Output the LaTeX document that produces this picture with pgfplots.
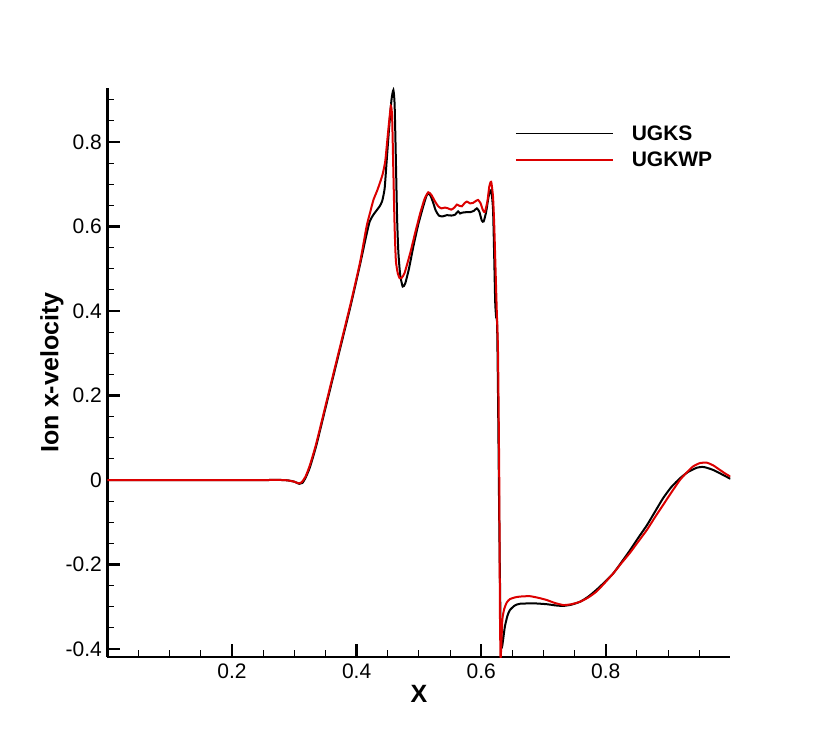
\documentclass[border=0pt]{standalone}
\usepackage{pgfplots}
\pgfplotsset{compat=1.18}
\usepackage{fontspec}
\setmainfont{Liberation Sans}
\definecolor{ugkwp}{RGB}{220,0,0}
\begin{document}
\begin{tikzpicture}
\useasboundingbox (0,0) rectangle (830pt,739pt);
\begin{axis}[
  at={(107.4pt,82pt)}, anchor=south west,
  scale only axis, width=623pt, height=569pt,
  xmin=0, xmax=1, ymin=-0.419, ymax=0.928,
  axis x line=bottom, axis y line=left,
  axis line style={-, line width=2.4pt},
  xtick={0.2,0.4,0.6,0.8},
  ytick={-0.4,-0.2,0,0.2,0.4,0.6,0.8},
  minor xtick={0.05,0.1,0.15,0.25,0.3,0.35,0.45,0.5,0.55,0.65,0.7,0.75,0.85,0.9,0.95},
  minor ytick={-0.35,-0.3,-0.25,-0.15,-0.1,-0.05,0.05,0.1,0.15,0.25,0.3,0.35,0.45,0.5,0.55,0.65,0.7,0.75,0.85,0.9},
  tick align=inside,
  major tick length=13pt, minor tick length=7pt,
  major tick style={line width=2.4pt, black},
  minor tick style={line width=1pt, black},
  /pgf/number format/assume math mode=true,
  tick label style={font=\fontsize{21}{23}\selectfont},
  xticklabel style={yshift=-3pt},
  yticklabel style={xshift=-2pt},
  xlabel={\bfseries X},
  ylabel={\bfseries Ion x-velocity},
  x label style={at={(axis description cs:0.5,0)}, anchor=center, yshift=-37pt, font=\fontsize{25}{27}\selectfont},
  y label style={at={(axis description cs:-0.089,0.5)}, anchor=center, font=\fontsize{25}{27}\selectfont},
  legend image code/.code={\draw[line width=1.7pt] (0pt,0pt) -- (97pt,0pt);},
  legend style={draw=none, fill=none, at={(0.654,0.897)}, anchor=west, inner sep=0pt,
    font=\bfseries\fontsize{21}{23}\selectfont, row sep=10pt,
    nodes={inner sep=0pt},
    /tikz/every odd column/.append style={column sep=18pt}},
  legend cell align=left,
]
\addplot[black, line width=2pt, smooth, tension=0.35] table {
0 0
0.25 0
0.28 0
0.29 -0.001
0.30 -0.004
0.308 -0.009
0.313 -0.007
0.318 0.005
0.325 0.03
0.335 0.08
0.35 0.17
0.37 0.29
0.39 0.41
0.4055 0.51
0.415 0.575
0.421 0.612
0.427 0.628
0.432 0.638
0.437 0.648
0.441 0.66
0.445 0.69
0.448 0.75
0.452 0.83
0.456 0.9
0.459 0.923
0.461 0.89
0.463 0.76
0.465 0.62
0.467 0.54
0.470 0.485
0.474 0.458
0.478 0.465
0.484 0.5
0.491 0.552
0.499 0.605
0.507 0.648
0.512 0.672
0.515 0.679
0.519 0.672
0.523 0.656
0.527 0.638
0.532 0.626
0.538 0.624
0.545 0.627
0.552 0.626
0.558 0.628
0.563 0.636
0.566 0.631
0.570 0.633
0.576 0.634
0.582 0.634
0.588 0.637
0.593 0.643
0.597 0.635
0.601 0.614
0.604 0.612
0.608 0.635
0.612 0.672
0.616 0.686
0.619 0.64
0.621 0.52
0.6225 0.42
0.624 0.385
0.6255 0.37
0.627 0.2
0.629 -0.1
0.631 -0.33
0.633 -0.395
0.635 -0.38
0.638 -0.347
0.642 -0.322
0.646 -0.308
0.654 -0.297
0.662 -0.293
0.684 -0.292
0.705 -0.294
0.72 -0.297
0.732 -0.298
0.745 -0.295
0.759 -0.288
0.772 -0.276
0.785 -0.26
0.798 -0.242
0.812 -0.221
0.825 -0.195
0.839 -0.166
0.852 -0.137
0.866 -0.107
0.879 -0.075
0.892 -0.043
0.905 -0.017
0.919 0.004
0.932 0.019
0.946 0.029
0.955 0.031
0.962 0.029
0.972 0.024
0.983 0.016
0.992 0.009
1.0 0.003
};
\addlegendentry{UGKS}
\addplot[ugkwp, line width=2pt, smooth, tension=0.35] table {
0 0
0.25 0
0.28 0
0.29 -0.001
0.30 -0.004
0.307 -0.008
0.312 -0.005
0.318 0.008
0.325 0.035
0.335 0.085
0.35 0.175
0.37 0.295
0.39 0.415
0.4055 0.515
0.416 0.6
0.422 0.635
0.427 0.663
0.433 0.685
0.438 0.706
0.442 0.725
0.446 0.755
0.449 0.8
0.452 0.845
0.455 0.885
0.457 0.86
0.459 0.73
0.461 0.6
0.463 0.52
0.466 0.49
0.469 0.478
0.472 0.478
0.477 0.49
0.486 0.537
0.494 0.585
0.502 0.631
0.509 0.665
0.515 0.681
0.520 0.675
0.526 0.659
0.531 0.648
0.536 0.643
0.542 0.645
0.547 0.643
0.552 0.640
0.557 0.645
0.561 0.652
0.565 0.649
0.569 0.648
0.573 0.655
0.577 0.659
0.582 0.655
0.587 0.656
0.591 0.66
0.595 0.663
0.599 0.655
0.603 0.638
0.606 0.635
0.610 0.66
0.613 0.695
0.616 0.706
0.619 0.67
0.621 0.6
0.623 0.5
0.625 0.4
0.627 0.3
0.629 0.0
0.630 -0.3
0.631 -0.42
0.632 -0.40
0.634 -0.33
0.637 -0.305
0.641 -0.29
0.646 -0.282
0.654 -0.278
0.662 -0.276
0.678 -0.275
0.692 -0.279
0.705 -0.284
0.718 -0.291
0.732 -0.296
0.745 -0.294
0.759 -0.288
0.772 -0.278
0.785 -0.264
0.798 -0.244
0.812 -0.221
0.825 -0.197
0.839 -0.172
0.852 -0.146
0.866 -0.118
0.879 -0.088
0.892 -0.059
0.905 -0.03
0.919 0.0
0.930 0.018
0.940 0.032
0.951 0.04
0.962 0.041
0.972 0.035
0.983 0.024
0.992 0.015
1.0 0.008
};
\addlegendentry{UGKWP}
\end{axis}
\end{tikzpicture}
\end{document}
